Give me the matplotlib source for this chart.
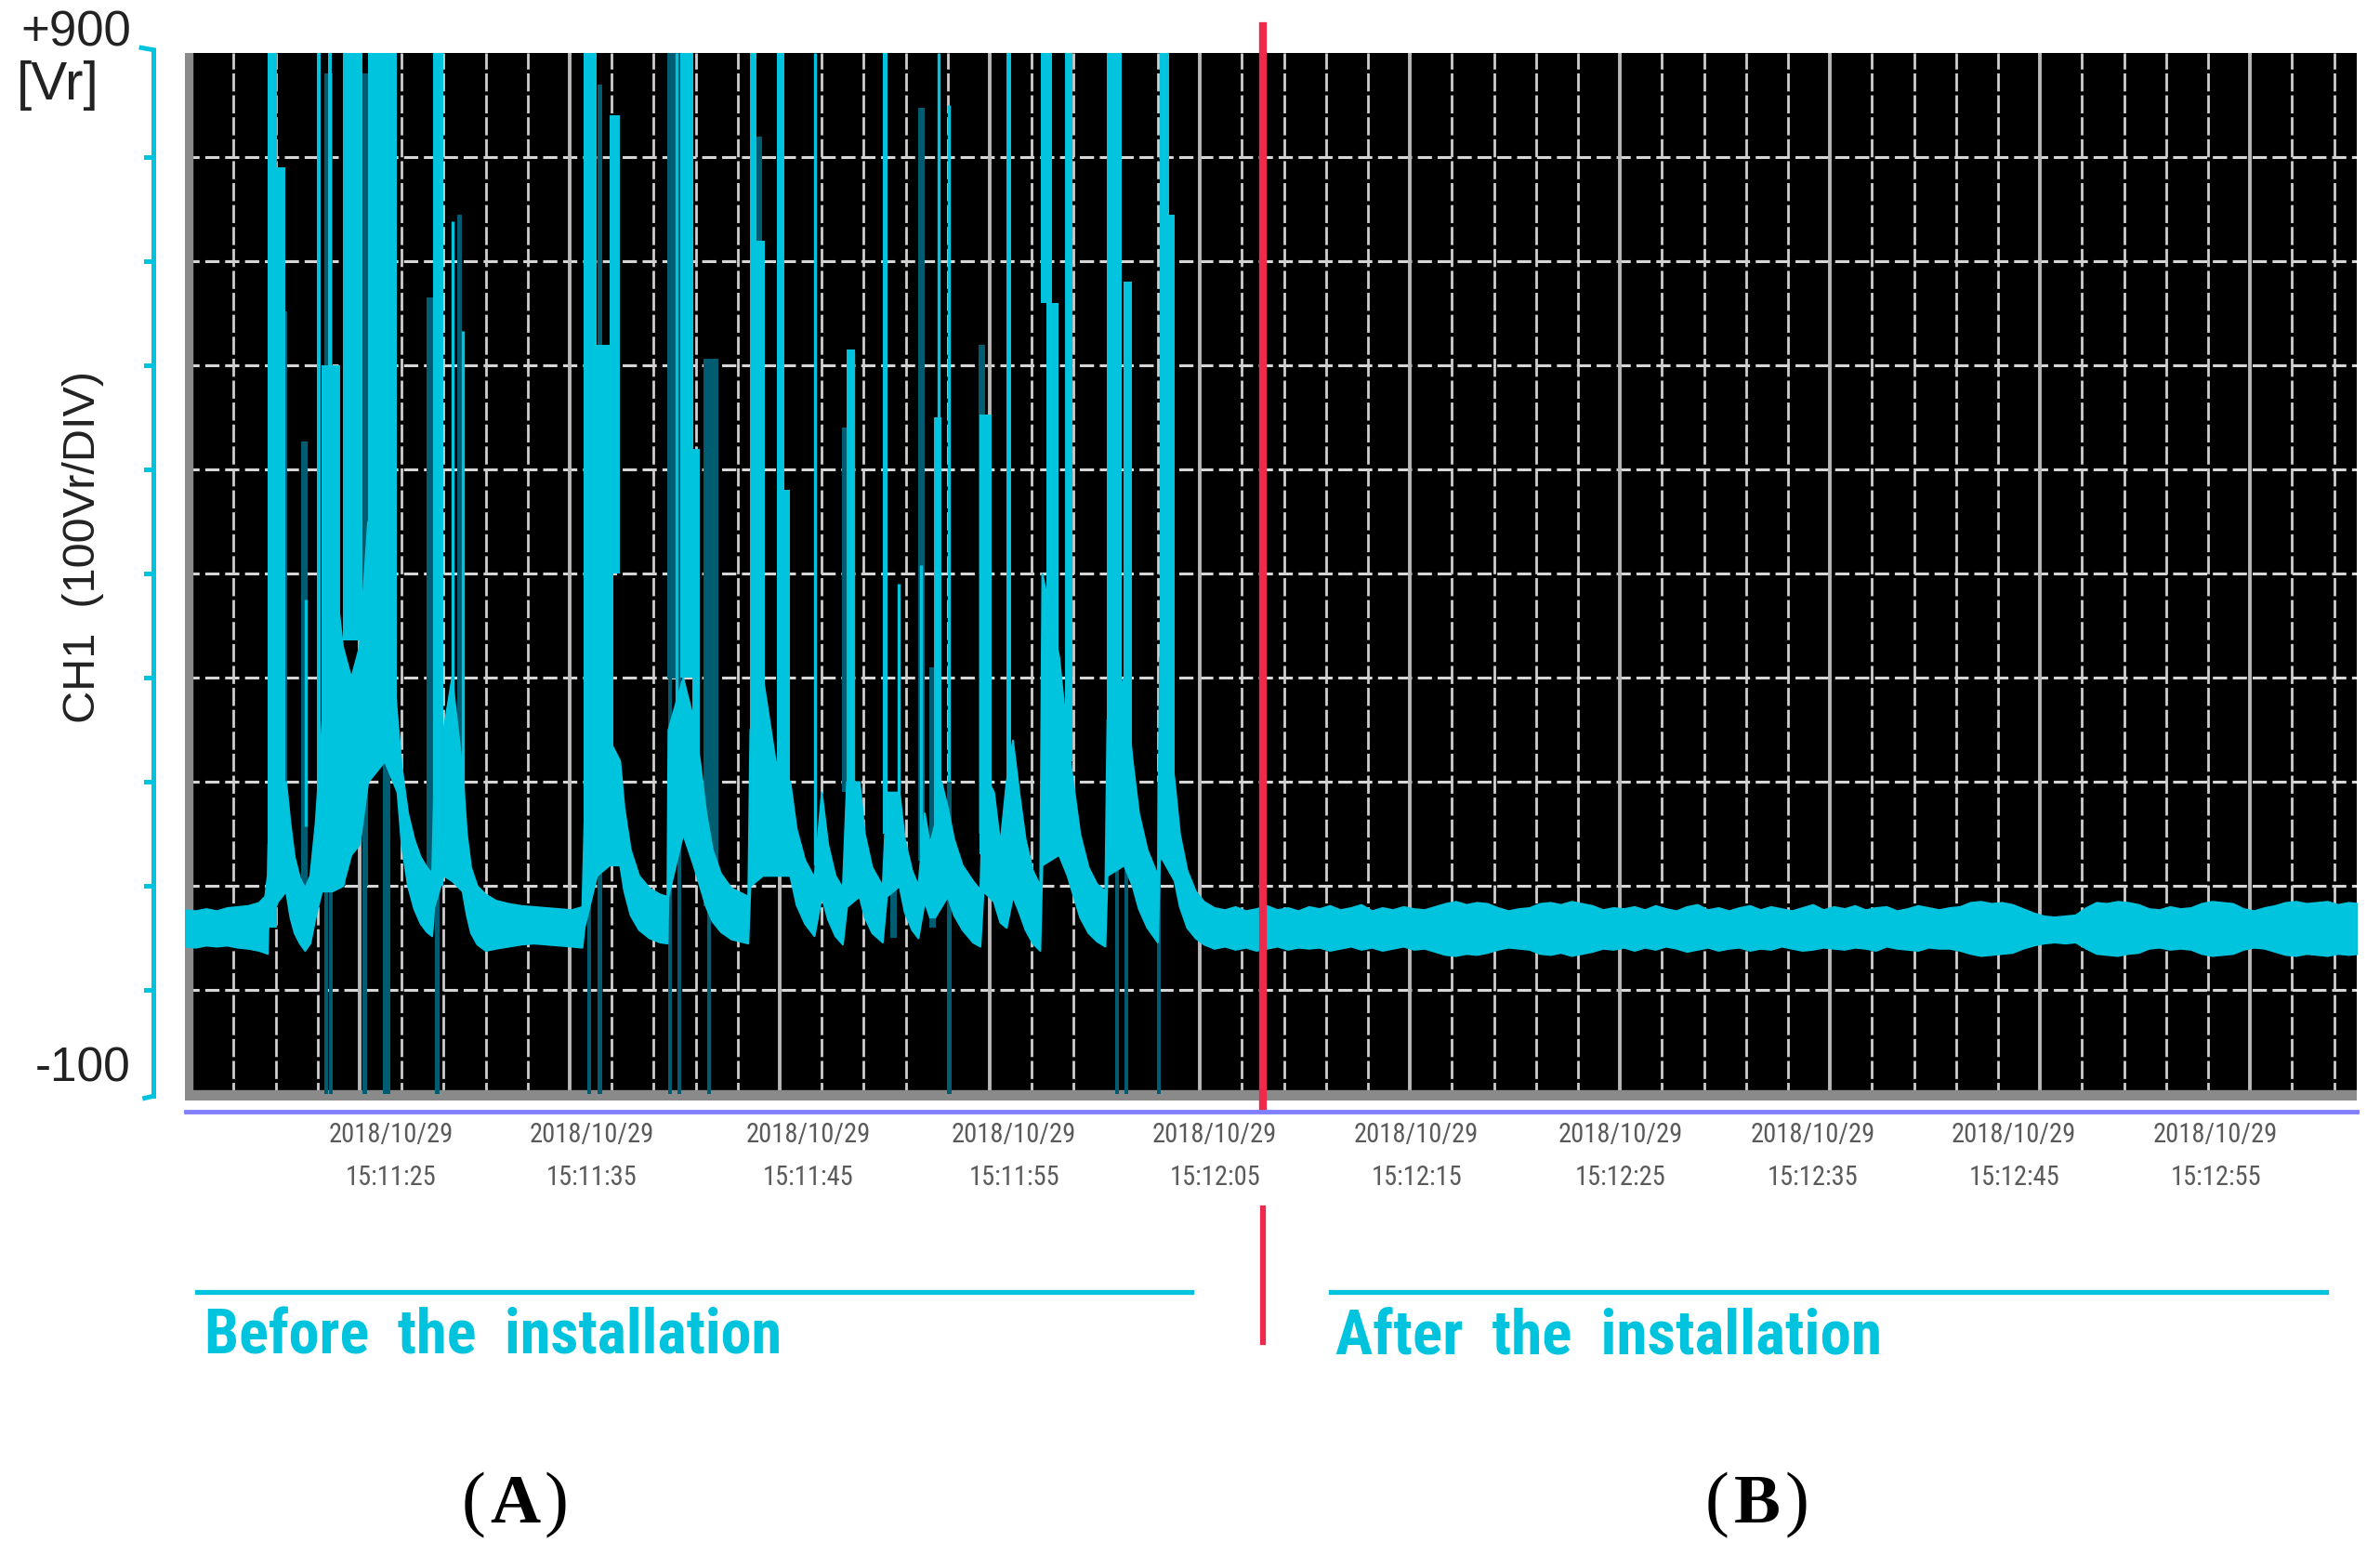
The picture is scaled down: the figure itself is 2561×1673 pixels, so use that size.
import os
import numpy as np
import matplotlib
matplotlib.use("Agg")
import matplotlib.pyplot as plt
from matplotlib.lines import Line2D
from matplotlib import font_manager as fm
import matplotlib.transforms as mtransforms

# ---- data (time in s from left edge, value in Vr) ----
# main trace body before the installation: time, lower edge, upper edge
body_t = [0.0, 0.5, 1.0, 1.5, 2.0, 2.5, 3.0, 3.5, 3.8, 3.92,
          3.95, 4.4, 4.8, 5.0, 5.2, 5.45, 5.7, 5.95, 6.2, 6.5,
          7.0, 7.5, 7.9, 8.3, 8.7, 9.5, 10.1, 10.3, 10.6, 10.9,
          11.2, 11.5, 11.75, 11.85, 12.3, 12.7, 13.2, 13.4, 13.6, 13.9,
          14.3, 14.8, 15.4, 16.0, 16.6, 17.2, 17.8, 18.4, 18.9, 19.0,
          19.6, 20.2, 20.7, 20.9, 21.2, 21.6, 22.1, 22.6, 22.95, 23.0,
          23.7, 24.2, 24.5, 24.8, 25.1, 25.5, 26.0, 26.8, 26.9, 27.5,
          28.1, 28.8, 29.1, 29.5, 29.95, 30.3, 30.6, 30.95, 31.3, 31.5,
          32.1, 32.35, 32.7, 33.2, 33.4, 34.0, 34.25, 34.6, 34.9, 35.2,
          35.45, 35.7, 36.0, 36.3, 36.6, 37.0, 37.5, 37.85, 38.0, 38.5,
          38.8, 39.1, 39.4, 39.7, 40.0, 40.35, 40.7, 40.8, 41.6, 42.0,
          42.3, 42.6, 43.0, 43.4, 43.8, 43.9, 44.7, 45.1, 45.4, 45.8,
          46.3, 46.4, 47.1, 47.35, 47.7, 48.1, 48.5, 49.0]
body_lo = [42, 41, 43, 42, 43, 41, 40, 38, 36, 35,
           60, 85, 95, 70, 55, 45, 38, 45, 70, 95,
           95, 100, 130, 140, 200, 220, 190, 140, 100, 78,
           64, 56, 52, 80, 110, 105, 95, 72, 55, 44,
           38, 40, 42, 44, 45, 44, 43, 42, 41, 60,
           110, 120, 120, 95, 72, 58, 50, 46, 45, 90,
           150, 120, 100, 80, 66, 56, 49, 45, 100, 110,
           110, 110, 82, 64, 52, 90, 68, 52, 44, 80,
           90, 70, 55, 46, 90, 100, 75, 58, 50, 85,
           70, 70, 80, 90, 72, 58, 46, 42, 95, 85,
           65, 60, 90, 75, 58, 45, 38, 120, 130, 110,
           90, 70, 55, 47, 42, 110, 120, 100, 78, 60,
           46, 130, 105, 80, 60, 50, 44, 40]
body_hi = [77, 76, 78, 76, 79, 80, 81, 84, 90, 110,
           140, 200, 200, 160, 128, 108, 98, 110, 160, 250,
           420, 330, 300, 330, 450, 420, 260, 215, 170, 145,
           128, 118, 112, 200, 250, 300, 210, 150, 118, 100,
           92, 86, 83, 81, 80, 79, 78, 77, 80, 160,
           230, 240, 220, 175, 135, 110, 98, 92, 90, 250,
           300, 260, 220, 170, 135, 112, 98, 90, 250, 300,
           220, 200, 155, 125, 108, 190, 140, 110, 98, 200,
           200, 150, 118, 100, 190, 190, 145, 115, 100, 170,
           140, 160, 200, 175, 145, 120, 105, 96, 210, 190,
           140, 200, 240, 190, 145, 115, 100, 400, 320, 240,
           195, 150, 118, 102, 95, 260, 300, 220, 170, 135,
           110, 320, 200, 150, 115, 95, 85, 79]

# noise band after the installation, sampled every 0.5 s from 49.0 s
after_t = np.arange(49.0, 104.0, 0.5)
after_hi = [79, 77, 80, 76, 78, 81, 77, 79, 76, 80,
            78, 81, 77, 79, 82, 76, 79, 77, 80, 78,
            77, 80, 83, 85, 82, 84, 83, 79, 76, 78,
            79, 83, 84, 82, 85, 83, 81, 77, 79, 78,
            80, 77, 81, 78, 76, 80, 82, 77, 79, 76,
            79, 81, 77, 80, 78, 76, 79, 82, 77, 80,
            78, 81, 77, 79, 80, 76, 78, 81, 79, 77,
            79, 80, 84, 85, 83, 84, 82, 78, 74, 71,
            70, 71, 72, 79, 84, 83, 85, 84, 82, 78,
            77, 80, 78, 79, 83, 85, 84, 83, 78, 76,
            79, 81, 84, 85, 83, 84, 85, 82, 84, 83]
after_lo = [40, 42, 39, 41, 38, 40, 42, 39, 41, 40,
            41, 38, 40, 42, 39, 41, 38, 40, 42, 39,
            40, 37, 34, 33, 35, 34, 36, 39, 41, 40,
            39, 35, 34, 36, 33, 35, 37, 40, 39, 41,
            38, 41, 39, 42, 40, 37, 39, 41, 38, 40,
            41, 38, 40, 39, 42, 40, 38, 39, 41, 40,
            39, 41, 40, 38, 42, 40, 39, 38, 41, 40,
            40, 38, 35, 33, 34, 35, 36, 40, 43, 45,
            46, 45, 46, 40, 35, 34, 33, 35, 36, 40,
            41, 39, 40, 39, 35, 33, 34, 35, 39, 41,
            40, 37, 34, 33, 35, 34, 33, 35, 34, 35]

# bright columns: start, end, bottom, top
bc_t0 = [3.93, 4.40, 6.27, 6.50, 6.80, 7.52, 8.72, 11.82, 19.00, 19.62, 20.20, 23.60, 24.15,
         26.90, 27.20, 28.20, 28.55, 31.50, 33.23, 35.66, 37.85, 39.13, 40.75, 41.00, 41.90,
         43.90, 44.70, 46.40, 46.85]
bc_t1 = [4.40, 4.78, 6.47, 7.40, 7.00, 8.45, 10.10, 12.30, 19.62, 20.40, 20.70, 24.20, 24.50,
         27.20, 27.60, 28.55, 28.80, 31.90, 33.45, 36.00, 38.40, 39.33, 41.30, 41.60, 42.25,
         44.60, 45.10, 46.85, 47.10]
bc_lo = [60, 190, 90, 260, 100, 336, 256, 100, 150, 190, 400, 300, 150,
         250, 200, 120, 150, 200, 150, 150, 130, 100, 660, 300, 220,
         256, 200, 200, 120]
bc_hi = [900, 790, 900, 600, 900, 900, 900, 900, 900, 620, 840, 900, 520,
         900, 720, 900, 480, 615, 900, 550, 553, 900, 900, 660, 900,
         900, 680, 900, 745]

# thin bright spikes: time, bottom, top
sp_t = [5.75, 12.75, 13.25, 23.42, 29.98, 31.83, 33.96, 35.05, 35.90, 36.38]
sp_lo = [157, 150, 120, 165, 120, 200, 190, 130, 80, 200]
sp_hi = [375, 738, 633, 900, 900, 613, 390, 408, 900, 850]

# dark teal columns: start, end, bottom, top
dk_t0 = [4.42, 5.53, 6.62, 6.86, 6.50, 8.45, 8.47, 9.42, 9.60, 11.50, 11.92, 12.98,
         19.16, 19.66, 22.98, 23.00, 23.44, 24.67, 24.88, 27.18, 31.30, 33.60, 34.90,
         35.44, 36.30, 37.80, 41.00, 44.28, 44.72, 46.28, 46.40]
dk_t1 = [4.87, 5.83, 6.82, 7.04, 7.67, 8.72, 8.67, 9.62, 9.78, 11.80, 12.12, 13.20,
         19.34, 19.86, 23.64, 23.18, 23.62, 25.41, 25.06, 27.47, 31.90, 33.90, 35.20,
         35.75, 36.48, 38.10, 41.60, 44.46, 44.90, 46.46, 47.10]
dk_lo = [190, 100, -100, -100, 100, 100, -100, -100, -100, 58, -100, 124,
         -100, -100, 299, -100, -100, 80, -100, 250, 190, 50, 124,
         60, -100, 150, 388, -100, -100, -100, 124]
dk_hi = [652, 527, 880, 880, 256, 880, 400, 500, 400, 665, 300, 745,
         200, 870, 900, 300, 300, 606, 100, 820, 540, 190, 847,
         310, 200, 620, 660, 300, 300, 200, 745]

# time axis labels
tick_pos = [9.82, 19.38, 29.69, 39.47, 49.03, 58.63, 68.36, 77.52, 87.08, 96.68]
tick_time = ["15:11:25", "15:11:35", "15:11:45", "15:11:55", "15:12:05",
             "15:12:15", "15:12:25", "15:12:35", "15:12:45", "15:12:55"]
tick_date = "2018/10/29"
install_t = 51.33

CYAN = "#00c4de"
DARK = "#005c70"
RED = "#ee2a4c"


def condensed_font(bold):
    prefs = ["liberationsansnarrow", "notosans-condensed", "notosanscondensed",
             "robotocondensed", "roboto_condensed", "opensans_condensed",
             "opensans-condensed", "opensanscondensed", "dejavusanscondensed"]
    files = sorted(set(f.fname for f in fm.fontManager.ttflist))
    for p in prefs:
        for fn in files:
            base = os.path.splitext(os.path.basename(fn))[0].lower().replace(" ", "")
            if not base.startswith(p):
                continue
            rest = base[len(p):]
            if any(s in rest for s in ("italic", "oblique", "semi", "extra", "demi", "ultra",
                                        "light", "thin", "medium", "black")):
                continue
            if bold == ("bold" in rest):
                return fm.FontProperties(fname=fn)
    return None


W, H = 2561, 1674
plt.rcParams["font.family"] = ["Liberation Sans", "DejaVu Sans"]
fig = plt.figure(figsize=(W / 100, H / 100), dpi=100)
fig.patch.set_facecolor("white")
renderer = fig.canvas.get_renderer()


def fx(px):
    return px / W


def fy(py):
    return 1 - py / H


def fit_width(txt, target):
    w = txt.get_window_extent(renderer).width
    txt.set_fontsize(txt.get_fontsize() * target / w)


cond_reg = condensed_font(False)
cond_bold = condensed_font(True)


def font_kw(fp, bold):
    if fp is not None:
        return {"fontproperties": fp}
    return {"family": "Liberation Sans", "weight": "bold" if bold else "normal"}


ax = fig.add_axes([fx(199), fy(1185), fx(2536) - fx(199), fy(58) - fy(1185)])
ax.set_facecolor("black")
ax.set_xlim(0, 103.4)
ax.set_ylim(-106.25, 900)
for s in ax.spines.values():
    s.set_visible(False)
ax.set_xticks([])
ax.set_yticks([])

# grid
for v in range(0, 900, 100):
    ax.axhline(v, color="#d6d6d6", lw=2.2, ls=(0, (5, 2)), zorder=1)
for k in range(52):
    gx = 0.32 + 2 * k
    if k % 5 == 4:
        ax.axvline(gx, color="#b8b8b8", lw=2.8, zorder=1)
    else:
        ax.axvline(gx, color="#cfcfcf", lw=2.0, ls=(0, (7, 1.5)), zorder=1)
ax.axhspan(-106.25, -96.5, color="#8a8a8a", zorder=1.5)
ax.axvspan(0, 0.35, color="#8a8a8a", zorder=1.5)

# trace
ax.bar(dk_t0, np.subtract(dk_hi, dk_lo), width=np.subtract(dk_t1, dk_t0), bottom=dk_lo,
       align="edge", color=DARK, lw=0, zorder=2)
ax.fill_between(body_t, body_lo, body_hi, color=CYAN, lw=1.5, zorder=3)
ax.fill_between(after_t, after_lo, after_hi, color=CYAN, lw=1.5, zorder=3)
ax.bar(bc_t0, np.subtract(bc_hi, bc_lo), width=np.subtract(bc_t1, bc_t0), bottom=bc_lo,
       align="edge", color=CYAN, lw=0, zorder=3)
ax.vlines(sp_t, sp_lo, sp_hi, color=CYAN, lw=2.4, zorder=3)

# installation marker
ax.axvline(install_t, ymin=-0.0089, ymax=1.0257, color=RED, lw=6, clip_on=False, zorder=5)
ax.axvline(install_t, ymin=-0.2307, ymax=-0.103, color=RED, lw=4.5, clip_on=False, zorder=5)

# time labels
xt = mtransforms.blended_transform_factory(ax.transData, fig.transFigure)
probe = fig.text(0, 0, tick_date, fontsize=16, **font_kw(cond_reg, False))
fit_width(probe, 134)
lab_size = probe.get_fontsize()
probe.remove()
for p, t in zip(tick_pos, tick_time):
    ax.text(p, fy(1221), tick_date, transform=xt, ha="center", va="center", fontsize=lab_size,
            color="#5a5a5a", **font_kw(cond_reg, False))
    ax.text(p, fy(1267), t, transform=xt, ha="center", va="center", fontsize=lab_size,
            color="#5a5a5a", **font_kw(cond_reg, False))

# blue base line under the plot
fig.add_artist(Line2D([fx(200), fx(2536)], [fy(1197), fy(1197)], color="#8080ff", lw=3.5))

# left cyan scale bracket
yt = mtransforms.blended_transform_factory(ax.transAxes, ax.transData)
bx = (165 - 199) / 2337
ax.plot([bx, bx], [-102, 903], color=CYAN, lw=3.6, transform=yt, clip_on=False)
ax.plot([bx - 0.0055, bx], [905, 903], color=CYAN, lw=3.6, transform=yt, clip_on=False)
ax.plot([bx - 0.004, bx], [-104, -102], color=CYAN, lw=3.6, transform=yt, clip_on=False)
for v in range(0, 900, 100):
    ax.plot([bx - 0.0035, bx], [v, v], color=CYAN, lw=3.6, transform=yt, clip_on=False)

# axis texts
fig.text(fx(22), fy(36), "+900", fontsize=38, color="#222222", ha="left", va="center")
fig.text(fx(18), fy(92), "[Vr]", fontsize=42, color="#222222", ha="left", va="center")
fig.text(fx(140), fy(1150), "-100", fontsize=37, color="#222222", ha="right", va="center")
fig.text(fx(90), fy(588), "CH1  (100Vr/DIV)", fontsize=35, color="#222222", rotation=90,
         ha="center", va="center")

# before / after annotations
fig.add_artist(Line2D([fx(212), fx(1282)], [fy(1391), fy(1391)], color=CYAN, lw=3.8))
fig.add_artist(Line2D([fx(1432), fx(2503)], [fy(1391), fy(1391)], color=CYAN, lw=3.8))
tb = fig.text(fx(220), fy(1457), "Before  the  installation", fontsize=40, color=CYAN,
              va="baseline", **font_kw(cond_bold, True))
fit_width(tb, 621)
ta = fig.text(fx(1437), fy(1457), "After  the  installation", fontsize=40, color=CYAN,
              va="baseline", **font_kw(cond_bold, True))
fit_width(ta, 588)

# panel letters
for cx, letter, off in [(554, "A", 32), (1891, "B", 30)]:
    fig.text(fx(cx), fy(1638), letter, fontsize=54, weight="bold", family="Liberation Serif",
             ha="center", va="baseline")
    fig.text(fx(cx - off), fy(1638), "(", fontsize=56, family="Liberation Serif",
             ha="right", va="baseline")
    fig.text(fx(cx + off), fy(1638), ")", fontsize=56, family="Liberation Serif",
             ha="left", va="baseline")

fig.savefig("out.png", dpi=100)
